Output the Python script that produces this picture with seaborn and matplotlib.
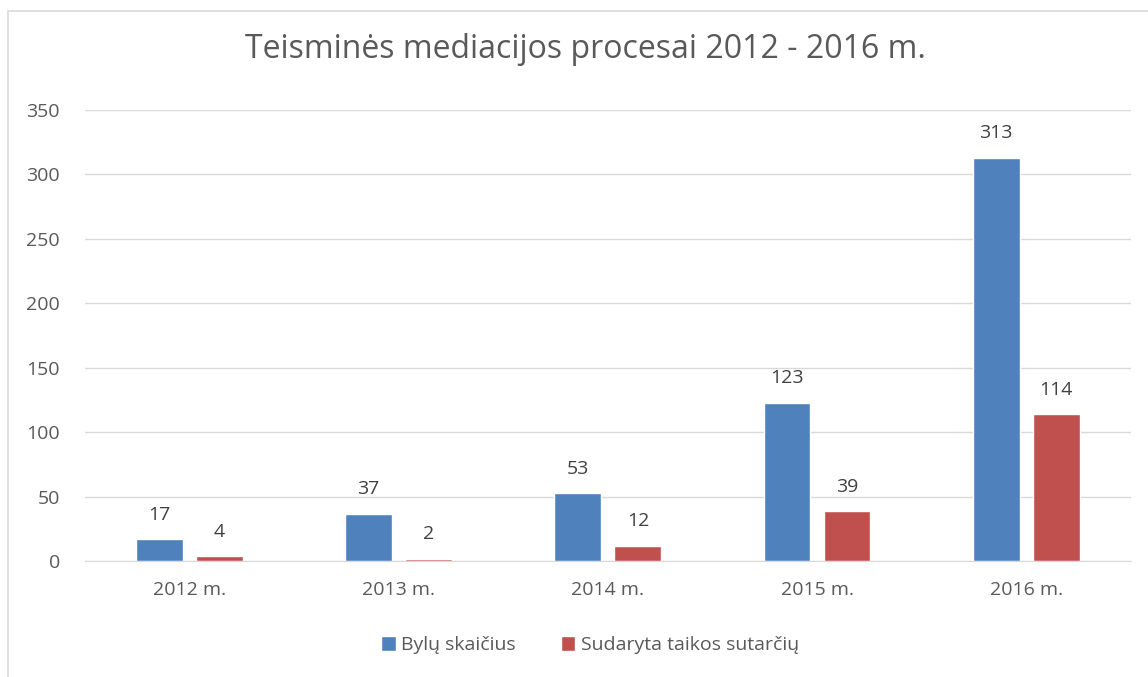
import pandas as pd
import matplotlib
matplotlib.use("Agg")
import matplotlib.pyplot as plt
import matplotlib.patches as mpatches
import seaborn as sns

# Duomenys
metai = ["2012 m.", "2013 m.", "2014 m.", "2015 m.", "2016 m."]
bylu_skaicius = [17, 37, 53, 123, 313]
taikos_sutartys = [4, 2, 12, 39, 114]
serijos = ["Bylų skaičius", "Sudaryta taikos sutarčių"]
spalvos = ["#4F81BD", "#C0504D"]

df = pd.DataFrame({
    "Metai": metai * 2,
    "Reikšmė": bylu_skaicius + taikos_sutartys,
    "Serija": [serijos[0]] * len(metai) + [serijos[1]] * len(metai),
})

sns.set_style("white")
plt.rcParams["font.family"] = ["Open Sans", "DejaVu Sans"]
tekstas = "#595959"

fig = plt.figure(figsize=(11.48, 6.77), dpi=100)
ax = fig.add_axes([0.074, 0.171, 0.911, 0.6665])

sns.barplot(data=df, x="Metai", y="Reikšmė", hue="Serija", palette=spalvos,
            width=0.574, gap=0.22, ax=ax, legend=True, saturation=1)

for cont in ax.containers:
    ax.bar_label(cont, padding=11, fontsize=14, color="#404040")

ax.set_ylim(0, 350)
ax.set_yticks(range(0, 351, 50))
ax.yaxis.grid(True, color="#D9D9D9", linewidth=1)
ax.set_axisbelow(True)
for s in ["top", "right", "left"]:
    ax.spines[s].set_visible(False)
ax.spines["bottom"].set_color("#D9D9D9")
ax.tick_params(axis="both", length=0, labelsize=14, colors=tekstas)
ax.tick_params(axis="x", pad=14)
ax.tick_params(axis="y", pad=18)
ax.set_xlabel("")
ax.set_ylabel("")

fig.text(0.51, 0.927, "Teisminės mediacijos procesai 2012 - 2016 m.",
         ha="center", va="center", fontsize=23, color=tekstas)

h, l = ax.get_legend_handles_labels()
ax.get_legend().remove()
fig.legend(h, l, loc="center", bbox_to_anchor=(0.514, 0.047), ncol=2,
           frameon=False, fontsize=14, labelcolor=tekstas,
           handlelength=0.75, handleheight=0.75, handletextpad=0.3, columnspacing=2.3)

# rėmelis
fig.patches.append(mpatches.Rectangle((8 / 1148, -0.1), 1.2, 1.1 - 11 / 677,
                                      transform=fig.transFigure, fill=False,
                                      edgecolor="#D9D9D9", linewidth=1.2))

fig.savefig("out.png", dpi=100)
